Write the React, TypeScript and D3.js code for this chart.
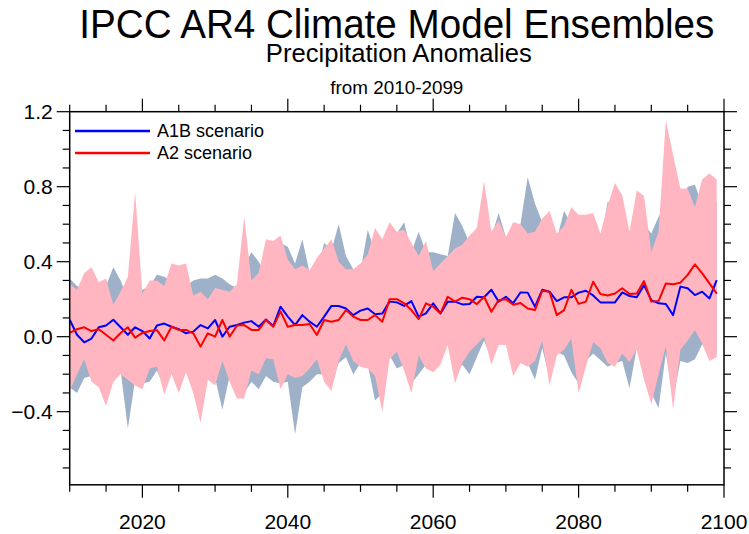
import * as d3 from "d3";

// years 2010..2099
const years = d3.range(2010, 2100);

const a1bMean = [
  0.09, 0.01, -0.03, -0.01, 0.05, 0.06, 0.09, 0.05, 0.01, 0.05,
  0.03, -0.01, 0.06, 0.07, 0.053, 0.04, 0.018, 0.027, 0.062, 0.044,
  0.089, 0.0, 0.053, 0.062, 0.075, 0.083, 0.053, 0.092, 0.057, 0.16,
  0.107, 0.062, 0.115, 0.08, 0.053, 0.107, 0.164, 0.164, 0.15, 0.115,
  0.139, 0.15, 0.12, 0.124, 0.187, 0.183, 0.164, 0.19, 0.107, 0.124,
  0.178, 0.124, 0.187, 0.187, 0.172, 0.174, 0.213, 0.21, 0.25, 0.187,
  0.213, 0.178, 0.236, 0.235, 0.16, 0.25, 0.24, 0.19, 0.21, 0.21,
  0.235, 0.245, 0.22, 0.183, 0.183, 0.183, 0.236, 0.217, 0.21, 0.275,
  0.195, 0.178, 0.174, 0.115, 0.267, 0.258, 0.222, 0.24, 0.204, 0.302,
];

const a2Mean = [
  0.02, 0.04, 0.05, 0.03, 0.04, 0.01, -0.02, 0.02, 0.05, -0.005,
  0.02, 0.03, 0.035, -0.02, 0.053, 0.036, 0.036, 0.018, -0.053, 0.018,
  0.0, 0.089, 0.0, 0.06, 0.062, 0.036, 0.036, 0.089, 0.053, 0.135,
  0.053, 0.062, 0.062, 0.068, 0.009, 0.089, 0.08, 0.089, 0.142, 0.107,
  0.089, 0.089, 0.115, 0.08, 0.2, 0.2, 0.178, 0.142, 0.094, 0.178,
  0.16, 0.124, 0.213, 0.187, 0.208, 0.2, 0.174, 0.213, 0.133, 0.195,
  0.2, 0.17, 0.18, 0.15, 0.142, 0.245, 0.24, 0.115, 0.142, 0.25,
  0.175, 0.187, 0.293, 0.228, 0.22, 0.23, 0.258, 0.228, 0.23, 0.297,
  0.187, 0.19, 0.284, 0.28, 0.288, 0.33, 0.386, 0.338, 0.284, 0.23,
];

const a1bMax = [
  0.31, 0.27, 0.26, 0.3, 0.25, 0.27, 0.37, 0.3, 0.2, 0.25,
  0.25, 0.27, 0.33, 0.32, 0.3, 0.3, 0.27, 0.3, 0.31, 0.31,
  0.33, 0.31, 0.28, 0.26, 0.38, 0.45, 0.4, 0.33, 0.45, 0.5,
  0.48, 0.39, 0.52, 0.34, 0.34, 0.5, 0.46, 0.6, 0.43, 0.36,
  0.35, 0.57, 0.45, 0.45, 0.5, 0.55, 0.61, 0.45, 0.56, 0.45,
  0.45, 0.44, 0.43, 0.66, 0.59, 0.5, 0.5, 0.55, 0.53, 0.66,
  0.53, 0.55, 0.6, 0.85, 0.71, 0.61, 0.58, 0.52, 0.67, 0.6,
  0.6, 0.62, 0.62, 0.5, 0.72, 0.7, 0.6, 0.5, 0.65, 0.6,
  0.55, 0.64, 0.7, 0.65, 0.7, 0.8, 0.81, 0.7, 0.75, 0.72,
];

const a1bMin = [
  -0.27, -0.3, -0.22, -0.21, -0.24, -0.3, -0.22, -0.18, -0.49, -0.23,
  -0.25, -0.24, -0.18, -0.27, -0.18, -0.26, -0.17, -0.27, -0.38, -0.2,
  -0.22, -0.39, -0.21, -0.29, -0.3, -0.24, -0.28, -0.21, -0.24, -0.25,
  -0.24, -0.52, -0.27, -0.24, -0.2, -0.2, -0.26, -0.14, -0.11, -0.2,
  -0.14, -0.15, -0.34, -0.3, -0.1, -0.17, -0.15, -0.25, -0.2, -0.15,
  -0.17, -0.13, -0.04, -0.2, -0.15, -0.2, -0.11, -0.02, -0.12, -0.04,
  -0.03, -0.18, -0.12, -0.14, -0.23, -0.06, -0.22, -0.08, -0.1, -0.19,
  -0.25, -0.13, -0.09, -0.125, -0.16, -0.14, -0.13, -0.275, -0.06, -0.2,
  -0.3, -0.38, -0.09, -0.33, -0.13, -0.14, -0.12, -0.04, -0.11, -0.09,
];

const a2Max = [
  0.28, 0.25, 0.34, 0.37, 0.29, 0.31, 0.17, 0.24, 0.32, 0.77,
  0.23, 0.3, 0.3, 0.27, 0.39, 0.38, 0.39, 0.22, 0.24, 0.2,
  0.26, 0.25, 0.24, 0.28, 0.64, 0.3, 0.34, 0.52, 0.51, 0.54,
  0.41, 0.36, 0.38, 0.355, 0.42, 0.47, 0.52, 0.4, 0.36, 0.36,
  0.39, 0.44, 0.58, 0.52, 0.61, 0.56, 0.57, 0.5, 0.43, 0.51,
  0.35, 0.39, 0.43, 0.47, 0.49, 0.54, 0.58, 0.83, 0.56, 0.62,
  0.53, 0.61, 0.6, 0.55, 0.56, 0.63, 0.67, 0.55, 0.59, 0.69,
  0.65, 0.65, 0.66, 0.55, 0.7, 0.82, 0.755, 0.56, 0.78, 0.75,
  0.45, 0.56, 1.155, 0.97, 0.79, 0.79, 0.69, 0.84, 0.87, 0.84,
];

const a2Min = [
  -0.29, -0.2, -0.12, -0.24, -0.27, -0.37, -0.24, -0.2, -0.23, -0.26,
  -0.28, -0.17, -0.16, -0.31, -0.2, -0.3, -0.19, -0.3, -0.46, -0.23,
  -0.26, -0.13, -0.24, -0.33, -0.33, -0.18, -0.2, -0.115, -0.12, -0.28,
  -0.2, -0.22, -0.21, -0.17, -0.12, -0.24, -0.29, -0.13, -0.04, -0.13,
  -0.16, -0.17, -0.21, -0.4, -0.12, -0.08, -0.18, -0.3, -0.1, -0.17,
  -0.19, -0.15, -0.045, -0.25, -0.14, -0.08, -0.04, 0.0, -0.15, -0.045,
  -0.045, -0.21, -0.14, -0.16, -0.13, -0.02, -0.26, -0.1, -0.07, -0.01,
  -0.3, -0.16, -0.03, -0.06, -0.14, -0.16, -0.09, -0.135, -0.07, -0.23,
  -0.36, -0.2, -0.05, -0.39, -0.07, -0.02, 0.036, -0.036, -0.13, -0.11,
];

const xMajorTicks = [2020, 2040, 2060, 2080, 2100];
const xMinorTicks = [2010, 2015, 2025, 2030, 2035, 2045, 2050, 2055, 2065, 2070, 2075, 2085, 2090, 2095];
const yMajorTicks = [-0.4, 0, 0.4, 0.8, 1.2];
const yMinorTicks = [-0.7, -0.6, -0.5, -0.3, -0.2, -0.1, 0.1, 0.2, 0.3, 0.5, 0.6, 0.7, 0.9, 1.0, 1.1];

const legendItems = [
  { label: "A1B scenario", color: "#0000ff" },
  { label: "A2 scenario", color: "#ff0000" },
];

const W = 749;
const H = 534;
const left = 69.7;
const right = 724;
const top = 111.7;
const bottom = 484.8;
const majorLen = 13;
const minorLen = 7;
const font = "'Liberation Sans', Arial, Helvetica, sans-serif";

export default function App() {
  const x = d3.scaleLinear().domain([2010, 2100]).range([left, right]);
  const y = d3.scaleLinear().domain([-0.79, 1.2]).range([bottom, top]);

  const band = (lo: number[], hi: number[]) =>
    d3
      .area<number>()
      .x((d) => x(d))
      .y0((_, i) => y(lo[i]))
      .y1((_, i) => y(hi[i]))(years) ?? "";

  const line = (vals: number[]) =>
    d3
      .line<number>()
      .x((d) => x(d))
      .y((_, i) => y(vals[i]))(years) ?? "";

  const cx = (left + right) / 2;

  return (
    <svg
      width={W}
      height={H}
      style={{ position: "absolute", left: 0, top: 0, background: "#fff" }}
      fontFamily={font}
    >
      <rect x={0} y={0} width={W} height={H} fill="#fff" />

      {/* titles */}
      <text x={cx} y={38} textAnchor="middle" fontSize={40} textLength={635} lengthAdjust="spacingAndGlyphs">
        IPCC AR4 Climate Model Ensembles
      </text>
      <text x={cx + 2} y={62} textAnchor="middle" fontSize={25} textLength={266} lengthAdjust="spacingAndGlyphs">
        Precipitation Anomalies
      </text>
      <text x={cx} y={94} textAnchor="middle" fontSize={18.5} textLength={133} lengthAdjust="spacingAndGlyphs">
        from 2010-2099
      </text>

      {/* ensemble spreads */}
      <path d={band(a1bMin, a1bMax)} fill="#9eb1c9" stroke="none" />
      <path d={band(a2Min, a2Max)} fill="#ffb6c1" stroke="none" />

      {/* ensemble means */}
      <path d={line(a1bMean)} fill="none" stroke="#0000ff" strokeWidth={2} strokeLinejoin="round" />
      <path d={line(a2Mean)} fill="none" stroke="#ff0000" strokeWidth={2} strokeLinejoin="round" />

      {/* frame */}
      <rect x={left} y={top} width={right - left} height={bottom - top} fill="none" stroke="#000" strokeWidth={1.5} />

      {/* ticks on all four sides, pointing out */}
      <g stroke="#000" strokeWidth={1.2}>
        {xMajorTicks.map((t) => (
          <g key={"xM" + t}>
            <line x1={x(t)} x2={x(t)} y1={bottom} y2={bottom + majorLen} />
            <line x1={x(t)} x2={x(t)} y1={top} y2={top - majorLen} />
          </g>
        ))}
        {xMinorTicks.map((t) => (
          <g key={"xm" + t}>
            <line x1={x(t)} x2={x(t)} y1={bottom} y2={bottom + minorLen} />
            <line x1={x(t)} x2={x(t)} y1={top} y2={top - minorLen} />
          </g>
        ))}
        {yMajorTicks.map((t) => (
          <g key={"yM" + t}>
            <line x1={left} x2={left - majorLen} y1={y(t)} y2={y(t)} />
            <line x1={right} x2={right + majorLen} y1={y(t)} y2={y(t)} />
          </g>
        ))}
        {yMinorTicks.map((t) => (
          <g key={"ym" + t}>
            <line x1={left} x2={left - minorLen} y1={y(t)} y2={y(t)} />
            <line x1={right} x2={right + minorLen} y1={y(t)} y2={y(t)} />
          </g>
        ))}
      </g>

      {/* tick labels */}
      {xMajorTicks.map((t) => (
        <text key={"xl" + t} x={x(t)} y={529} textAnchor="middle" fontSize={21}>
          {t}
        </text>
      ))}
      {yMajorTicks.map((t) => (
        <text key={"yl" + t} x={left - 17} y={y(t)} dy="0.36em" textAnchor="end" fontSize={21}>
          {d3.format(".1f")(t)}
        </text>
      ))}

      {/* legend */}
      {legendItems.map((d, i) => (
        <g key={d.label} transform={`translate(75, ${131 + i * 22})`}>
          <line x1={0} x2={75} y1={0} y2={0} stroke={d.color} strokeWidth={2.5} />
          <text x={82} y={0} dy="0.36em" fontSize={18}>
            {d.label}
          </text>
        </g>
      ))}
    </svg>
  );
}
